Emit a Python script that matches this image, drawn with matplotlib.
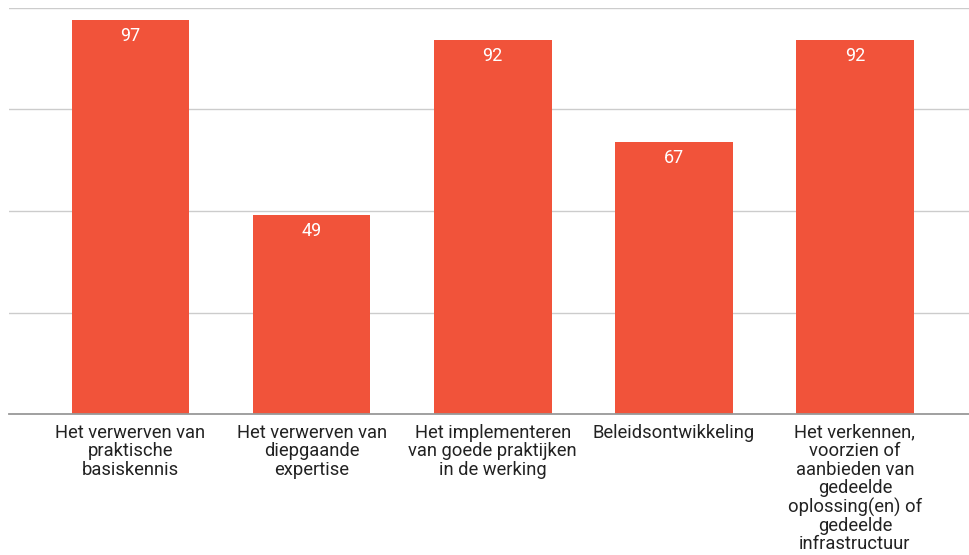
import matplotlib.pyplot as plt

plt.rcParams['font.family'] = ['Roboto', 'DejaVu Sans']

# Data
labels = [
    "Het verwerven van\npraktische\nbasiskennis",
    "Het verwerven van\ndiepgaande\nexpertise",
    "Het implementeren\nvan goede praktijken\nin de werking",
    "Beleidsontwikkeling",
    "Het verkennen,\nvoorzien of\naanbieden van\ngedeelde\noplossing(en) of\ngedeelde\ninfrastructuur",
]
values = [97, 49, 92, 67, 92]

bar_color = '#F1533A'

fig = plt.figure(figsize=(9.69, 5.55), dpi=100)
ax = fig.add_axes([9 / 969, 1 - 414 / 555, 960 / 969, 406 / 555])

x = range(len(values))
bars = ax.bar(x, values, width=0.65, color=bar_color, zorder=2)

# Value labels inside the top of each bar
for b, v in zip(bars, values):
    ax.annotate(str(v), (b.get_x() + b.get_width() / 2, v),
                xytext=(0, -11.5), textcoords='offset points',
                ha='center', va='center', color='white', fontsize=13)

ax.set_ylim(0, 100)
ax.set_xlim(-0.671, 4.63)
ax.set_yticks([25, 50, 75, 100])
ax.set_yticklabels([])
ax.tick_params(axis='y', length=0)
ax.grid(axis='y', color='#cccccc', linewidth=1, zorder=0)

ax.set_xticks(list(x))
ax.set_xticklabels(labels, fontsize=13.2, color='#222222', linespacing=1.03)
ax.tick_params(axis='x', length=0, pad=7)

for side in ['top', 'right', 'left']:
    ax.spines[side].set_visible(False)
ax.spines['bottom'].set_color('#999999')
ax.spines['bottom'].set_linewidth(1.3)

fig.savefig('out.png', dpi=100)
